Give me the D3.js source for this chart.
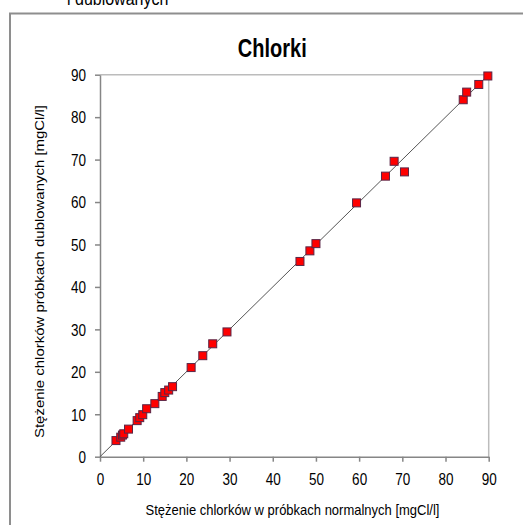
<!DOCTYPE html>
<html>
<head>
<meta charset="utf-8">
<script src="https://cdn.jsdelivr.net/npm/d3@7"></script>
<style>
  html, body { margin: 0; padding: 0; background: #fff; }
  svg { display: block; font-family: "Liberation Sans", Arial, sans-serif; }
</style>
</head>
<body>
<svg id="chart" width="523" height="525"></svg>
<script>
// ---- data ----
const normalValues = [3.7, 4.8, 5.2, 5.5, 6.6, 8.6, 9.2, 9.9, 10.8, 12.7, 14.4, 15.0, 15.9, 16.8, 21.1, 23.8, 26.1, 29.4, 46.3, 48.6, 50.0, 59.4, 66.1, 68.1, 70.5, 84.1, 84.9, 87.7, 89.8];
const duplicateValues = [3.8, 4.6, 5.1, 5.4, 6.5, 8.5, 9.2, 9.9, 11.3, 12.5, 14.2, 15.1, 15.7, 16.5, 21.0, 23.8, 26.6, 29.4, 46.0, 48.5, 50.2, 59.8, 66.1, 69.6, 67.1, 84.1, 85.9, 87.7, 89.7];
const referenceLineX = [0, 90];
const referenceLineY = [0, 90];
const xTickValues = [0, 10, 20, 30, 40, 50, 60, 70, 80, 90];
const yTickValues = [0, 10, 20, 30, 40, 50, 60, 70, 80, 90];
const chartTitle = "Chlorki";
const xAxisTitle = "Stężenie chlorków w próbkach normalnych [mgCl/l]";
const yAxisTitle = "Stężenie chlorków próbkach dublowanych [mgCl/l]";
const captionTail = "i dublowanych";

// ---- layout ----
const svg = d3.select("#chart");
const plot = { left: 100, right: 488.7, top: 74.7, bottom: 456.7 };

const x = d3.scaleLinear().domain([0, 90]).range([plot.left, plot.right]);
const y = d3.scaleLinear().domain([0, 90]).range([plot.bottom, plot.top]);

// caption fragment cut at top
svg.append("text")
  .attr("transform", "translate(67,5) scale(1,1.2)")
  .attr("font-size", 16)
  .attr("fill", "#000")
  .text(captionTail);

// outer chart border
svg.append("rect")
  .attr("x", 10).attr("y", 13.5)
  .attr("width", 700).attr("height", 700)
  .attr("fill", "none")
  .attr("stroke", "#8e8e8e")
  .attr("stroke-width", 2);

// plot area top / right border
svg.append("path")
  .attr("d", `M${plot.left},${plot.top}H${plot.right}V${plot.bottom}`)
  .attr("fill", "none")
  .attr("stroke", "#bcbcbc")
  .attr("stroke-width", 1.5);

// x axis
const xAxis = svg.append("g")
  .attr("transform", `translate(0,${plot.bottom})`)
  .call(d3.axisBottom(x).tickValues(xTickValues).tickSize(5).tickSizeOuter(0).tickFormat(d3.format("d")));
xAxis.select(".domain").attr("stroke", "#868686").attr("stroke-width", 1.5);
xAxis.selectAll(".tick line").attr("stroke", "#868686").attr("stroke-width", 1.5);
xAxis.selectAll(".tick text")
  .attr("y", 0).attr("dy", null)
  .attr("transform", "translate(0,28.5) scale(1,1.2)")
  .attr("font-size", 13.5)
  .attr("font-family", "Liberation Sans, Arial, sans-serif")
  .attr("fill", "#000");

// y axis
const yAxis = svg.append("g")
  .attr("transform", `translate(${plot.left},0)`)
  .call(d3.axisLeft(y).tickValues(yTickValues).tickSize(5).tickSizeOuter(0).tickFormat(d3.format("d")));
yAxis.select(".domain").attr("stroke", "#868686").attr("stroke-width", 1.5);
yAxis.selectAll(".tick line").attr("stroke", "#868686").attr("stroke-width", 1.5);
yAxis.selectAll(".tick text")
  .attr("x", 0).attr("dy", null)
  .attr("transform", "translate(-14,5.8) scale(1,1.2)")
  .attr("font-size", 13.5)
  .attr("font-family", "Liberation Sans, Arial, sans-serif")
  .attr("fill", "#000");

// reference line y = x
const line = d3.line().x(d => x(d[0])).y(d => y(d[1]));
svg.append("path")
  .datum(referenceLineX.map((v, i) => [v, referenceLineY[i]]))
  .attr("d", line)
  .attr("fill", "none")
  .attr("stroke", "#555")
  .attr("stroke-width", 1);

// markers
const points = normalValues.map((v, i) => ({ x: v, y: duplicateValues[i] }));
const ms = 8;
svg.append("g").selectAll("rect")
  .data(points)
  .join("rect")
  .attr("x", d => x(d.x) - ms / 2)
  .attr("y", d => y(d.y) - ms / 2)
  .attr("width", ms).attr("height", ms)
  .attr("fill", "#ff0000")
  .attr("stroke", "#5a2646")
  .attr("stroke-width", 1);

// title
svg.append("text")
  .attr("transform", "translate(272.3,56.5) scale(1,1.3)")
  .attr("text-anchor", "middle")
  .attr("font-size", 20)
  .attr("font-weight", "bold")
  .attr("fill", "#000")
  .text(chartTitle);

// x axis title
svg.append("text")
  .attr("transform", "translate(292.5,515) scale(1,1.15)")
  .attr("text-anchor", "middle")
  .attr("font-size", 13)
  .attr("fill", "#000")
  .text(xAxisTitle);

// y axis title
svg.append("text")
  .attr("transform", "translate(44,271.5) scale(1,1.15) rotate(-90)")
  .attr("text-anchor", "middle")
  .attr("font-size", 13)
  .attr("fill", "#000")
  .text(yAxisTitle);
</script>
</body>
</html>
